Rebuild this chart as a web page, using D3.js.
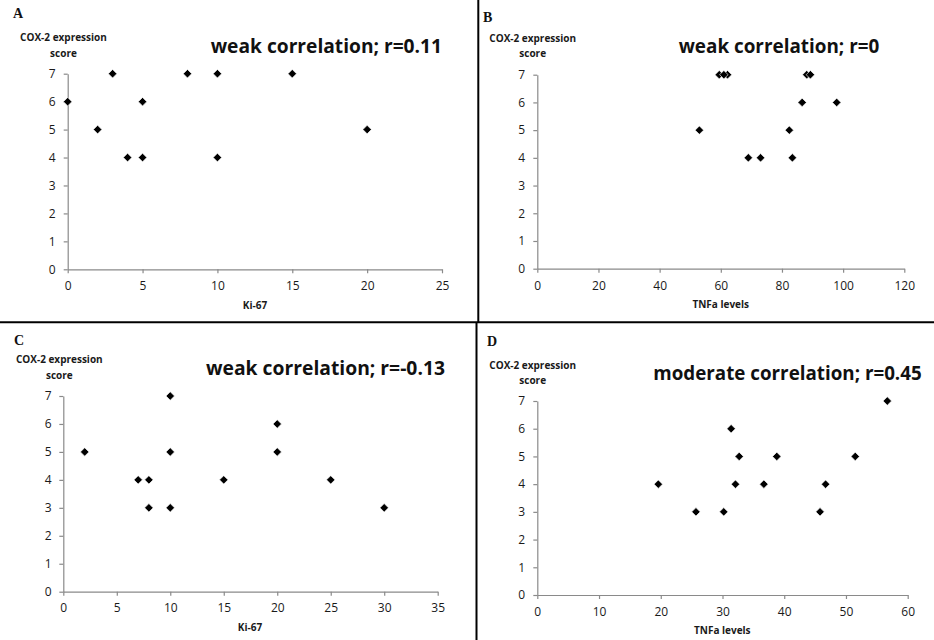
<!DOCTYPE html>
<html>
<head>
<meta charset="utf-8">
<script src="https://cdn.jsdelivr.net/npm/d3@7"></script>
<style>
  html, body { margin: 0; padding: 0; background: #fff; }
  svg { display: block; }
</style>
</head>
<body>
<svg id="chart" width="934" height="640"></svg>
<script>
// ---------------- data ----------------
const yTicks = [0, 1, 2, 3, 4, 5, 6, 7];

const panelLabels = ["A", "B", "C", "D"];
const yTitleLines = ["COX-2 expression", "score"];
const xTitles = ["Ki-67", "TNFa levels", "Ki-67", "TNFa levels"];
const annotations = [
  "weak correlation; r=0.11",
  "weak correlation; r=0",
  "weak correlation; r=-0.13",
  "moderate correlation; r=0.45"
];

const xTicksA = [0, 5, 10, 15, 20, 25];
const xTicksB = [0, 20, 40, 60, 80, 100, 120];
const xTicksC = [0, 5, 10, 15, 20, 25, 30, 35];
const xTicksD = [0, 10, 20, 30, 40, 50, 60];

// Panel A: Ki-67 vs COX-2
const kiA  = [0, 2, 3, 4, 5, 5, 8, 10, 10, 15, 20];
const coxA = [6, 5, 7, 4, 4, 6, 7, 7, 4, 7, 5];

// Panel B: TNFa vs COX-2
const tnfB = [59.5, 62.2, 61, 53, 69, 73, 83.4, 82.4, 86.6, 97.9, 88.1, 89.3];
const coxB = [7, 7, 7, 5, 4, 4, 4, 5, 6, 6, 7, 7];

// Panel C: Ki-67 vs COX-2
const kiC  = [2, 7, 8, 8, 10, 10, 10, 15, 20, 20, 25, 30];
const coxC = [5, 4, 4, 3, 7, 5, 3, 4, 6, 5, 4, 3];

// Panel D: TNFa vs COX-2
const tnfD = [19.6, 25.7, 30.2, 31.4, 32.1, 32.7, 36.7, 38.8, 45.8, 46.7, 51.5, 56.7];
const coxD = [4, 3, 3, 6, 4, 5, 4, 5, 3, 4, 5, 7];

// ---------------- layout ----------------
const panels = [
  { xs: kiA, ys: coxA, xTicks: xTicksA, x0: 67.7, x1: 442, y0: 269.3, y1: 73.7,
    label: [13, 18], yTitle: [63.5, 41.3, 57], ann: [210.7, 53.3, 231.3], xTitle: [255, 308.5], xTickBase: 290, yTickRight: 55.7 },
  { xs: tnfB, ys: coxB, xTicks: xTicksB, x0: 537.3, x1: 904.3, y0: 268.7, y1: 74.7,
    label: [483, 22], yTitle: [532.7, 41.7, 57.3], ann: [678.7, 53.3, 200.6], xTitle: [720.7, 308.3], xTickBase: 289.8, yTickRight: 525 },
  { xs: kiC, ys: coxC, xTicks: xTicksC, x0: 63.3, x1: 437.7, y0: 591.7, y1: 396,
    label: [14, 345], yTitle: [59.3, 363.3, 379], ann: [206, 375, 239], xTitle: [250, 630.7], xTickBase: 612.2, yTickRight: 51.5 },
  { xs: tnfD, ys: coxD, xTicks: xTicksD, x0: 537.3, x1: 907.7, y0: 595, y1: 401,
    label: [487, 346], yTitle: [532.7, 369, 384.3], ann: [653.3, 380, 268.4], xTitle: [722.3, 634.3], xTickBase: 616.2, yTickRight: 525 }
];

const sans = "'Open Sans', 'DejaVu Sans', sans-serif";
const serif = "'Liberation Serif', 'DejaVu Serif', serif";

const svg = d3.select("#chart");
svg.append("rect").attr("width", 934).attr("height", 640).attr("fill", "#fff");

const axisColor = "#8a8a8a";
const textColor = "#1a1a1a";

panels.forEach((p, i) => {
  const g = svg.append("g");
  const x = d3.scaleLinear().domain([p.xTicks[0], p.xTicks[p.xTicks.length - 1]]).range([p.x0, p.x1]);
  const y = d3.scaleLinear().domain([0, 7]).range([p.y0, p.y1]);

  // y axis
  const ya = g.append("g").attr("transform", `translate(${p.x0},0)`)
    .call(d3.axisLeft(y).tickValues(yTicks).tickSize(4).tickSizeOuter(0).tickPadding(8).tickFormat(d3.format("d")));
  ya.select(".domain").attr("stroke", axisColor).attr("stroke-width", 1.2);
  ya.selectAll(".tick line").attr("stroke", axisColor).attr("stroke-width", 1.2);
  ya.selectAll(".tick text").attr("fill", textColor)
    .style("font-family", sans).style("font-size", "12px")
    .attr("x", p.yTickRight - p.x0);

  // x axis
  const xa = g.append("g").attr("transform", `translate(0,${p.y0})`)
    .call(d3.axisBottom(x).tickValues(p.xTicks).tickSize(4).tickSizeOuter(0).tickPadding(6).tickFormat(d3.format("d")));
  xa.select(".domain").attr("stroke", axisColor).attr("stroke-width", 1.2);
  xa.selectAll(".tick line").attr("stroke", axisColor).attr("stroke-width", 1.2);
  xa.selectAll(".tick text").attr("fill", textColor)
    .style("font-family", sans).style("font-size", "12px")
    .attr("dy", null).attr("y", p.xTickBase - p.y0);

  // markers
  const sym = d3.symbol().type(d3.symbolSquare).size(36);
  g.append("g").selectAll("path")
    .data(p.xs.map((v, k) => [v, p.ys[k]]))
    .join("path")
    .attr("d", sym)
    .attr("transform", d => `translate(${x(d[0])},${y(d[1])}) rotate(45)`)
    .attr("fill", "#000")
    .attr("stroke", "#fff")
    .attr("stroke-width", 0.6);

  // panel label
  g.append("text").attr("x", p.label[0]).attr("y", p.label[1])
    .style("font-family", serif).style("font-weight", "bold").style("font-size", "14px")
    .attr("fill", "#111")
    .text(panelLabels[i]);

  // y title
  yTitleLines.forEach((t, k) => {
    g.append("text").attr("x", p.yTitle[0]).attr("y", p.yTitle[1 + k])
      .attr("text-anchor", "middle")
      .style("font-family", sans).style("font-weight", "bold").style("font-size", "10px")
      .attr("fill", textColor).text(t);
  });

  // x title
  g.append("text").attr("x", p.xTitle[0]).attr("y", p.xTitle[1])
    .attr("text-anchor", "middle")
    .style("font-family", sans).style("font-weight", "bold").style("font-size", "10px")
    .attr("fill", textColor).text(xTitles[i]);

  // annotation
  g.append("text").attr("x", p.ann[0]).attr("y", p.ann[1])
    .style("font-family", sans).style("font-weight", "bold").style("font-size", "19px")
    .attr("fill", "#111")
    .attr("textLength", p.ann[2]).attr("lengthAdjust", "spacingAndGlyphs")
    .text(annotations[i]);
});

// separators
svg.append("line").attr("x1", 478.3).attr("x2", 478.3).attr("y1", 0).attr("y2", 322.3)
  .attr("stroke", "#000").attr("stroke-width", 2);
svg.append("line").attr("x1", 476.5).attr("x2", 476.5).attr("y1", 322.3).attr("y2", 640)
  .attr("stroke", "#000").attr("stroke-width", 2);
svg.append("line").attr("x1", 0).attr("x2", 934).attr("y1", 322.3).attr("y2", 322.3)
  .attr("stroke", "#000").attr("stroke-width", 2);
</script>
</body>
</html>
